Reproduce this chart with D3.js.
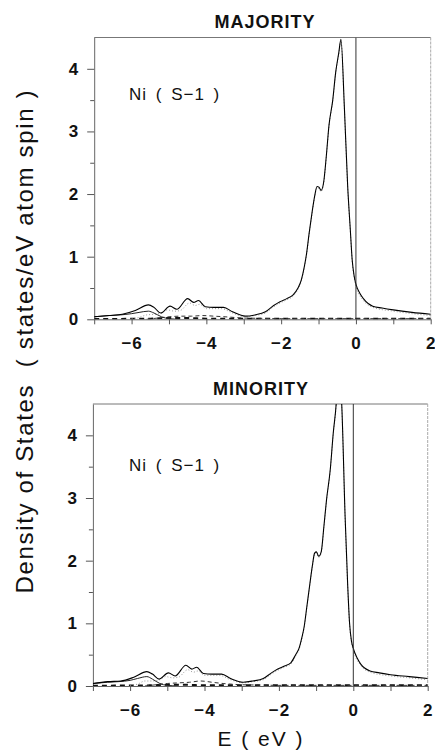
<!DOCTYPE html>
<html>
<head>
<meta charset="utf-8">
<script src="https://cdn.jsdelivr.net/npm/d3@7"></script>
<style>
body { margin: 0; background: #fff; }
text { font-family: "Liberation Sans", Arial, sans-serif; fill: #111; }
</style>
</head>
<body>
<svg id="chart" width="435" height="750"></svg>
<script>
// energy grid (eV) of the total DOS curves
const totE = [-7.0, -6.6, -6.25, -5.9, -5.55, -5.4, -5.22, -4.97, -4.79, -4.5, -4.34, -4.21, -4.03, -3.8, -3.54, -3.3,
  -2.96, -2.7, -2.42, -2.2, -2.03, -1.85, -1.68, -1.55, -1.46, -1.38, -1.32, -1.25, -1.17, -1.1, -1.04, -0.99, -0.93,
  -0.86, -0.79, -0.72, -0.62, -0.54, -0.46, -0.4, -0.31, -0.22, -0.15, -0.1, -0.05, 0.0, 0.1, 0.2, 0.45, 0.7, 1.0, 1.5, 2.0];
const majTotal = [0.04, 0.06, 0.08, 0.14, 0.23, 0.19, 0.10, 0.21, 0.16, 0.33, 0.27, 0.30, 0.20, 0.19, 0.19, 0.12,
  0.05, 0.07, 0.12, 0.22, 0.28, 0.33, 0.39, 0.50, 0.63, 0.84, 1.05, 1.38, 1.72, 1.98, 2.12, 2.11, 2.06,
  2.20, 2.62, 3.10, 3.50, 3.95, 4.25, 4.47, 3.40, 2.12, 1.43, 0.95, 0.70, 0.56, 0.42, 0.33, 0.21, 0.18, 0.15, 0.11, 0.08];
const minTotal = [0.04, 0.07, 0.08, 0.14, 0.23, 0.19, 0.11, 0.21, 0.16, 0.33, 0.27, 0.30, 0.20, 0.19, 0.19, 0.12,
  0.06, 0.08, 0.12, 0.21, 0.27, 0.32, 0.37, 0.50, 0.60, 0.78, 0.95, 1.26, 1.62, 1.92, 2.12, 2.14, 2.07,
  2.15, 2.55, 2.97, 3.45, 4.03, 4.50, 5.10, 4.48, 2.70, 1.60, 1.00, 0.72, 0.60, 0.45, 0.35, 0.24, 0.21, 0.18, 0.15, 0.12];

// dotted (grey) partial curve
const dotE = [-6.0, -5.8, -5.6, -5.4, -5.2, -5.05, -4.85, -4.7, -4.45, -4.3, -4.18, -4.0, -3.6, -3.3, -2.96, -2.7,
  -2.42, -2.2, -2.03, -1.85, -1.68, -1.55, -1.46, -1.38, -1.32, -1.25, -1.17, -1.1, -1.04, -0.99, -0.93, -0.86,
  -0.79, -0.72, -0.62, -0.54, -0.46, -0.4, -0.31, -0.22, -0.15, -0.1, -0.05, 0.0, 0.2, 0.45, 1.0, 1.5, 2.0];
const majDot = [0.01, 0.03, 0.07, 0.08, 0.10, 0.15, 0.13, 0.14, 0.26, 0.22, 0.24, 0.17, 0.17, 0.10, 0.04, 0.06,
  0.10, 0.20, 0.26, 0.31, 0.37, 0.48, 0.61, 0.82, 1.03, 1.36, 1.70, 1.96, 2.10, 2.09, 2.04, 2.18,
  2.60, 3.08, 3.48, 3.93, 4.23, 4.45, 3.38, 2.10, 1.41, 0.93, 0.68, 0.53, 0.30, 0.19, 0.13, 0.09, 0.06];
const minDot = [0.01, 0.03, 0.08, 0.08, 0.10, 0.15, 0.13, 0.14, 0.26, 0.22, 0.24, 0.17, 0.17, 0.10, 0.05, 0.07,
  0.10, 0.19, 0.25, 0.30, 0.35, 0.48, 0.58, 0.76, 0.93, 1.24, 1.60, 1.90, 2.10, 2.12, 2.05, 2.13,
  2.53, 2.95, 3.43, 4.01, 4.48, 5.08, 4.46, 2.68, 1.58, 0.98, 0.70, 0.57, 0.33, 0.22, 0.16, 0.13, 0.10];

// lower solid partial curve (bottom of the band)
const lowE = [-7.0, -6.6, -6.3, -6.0, -5.8, -5.55, -5.4, -5.2, -5.0, -4.7];
const majLow = [0.04, 0.06, 0.07, 0.09, 0.11, 0.13, 0.10, 0.04, 0.01, 0.0];
const minLow = [0.04, 0.06, 0.07, 0.09, 0.12, 0.15, 0.11, 0.04, 0.01, 0.0];

// dashed partial curve
const dashE = [-5.6, -5.3, -5.0, -4.7, -4.4, -4.1, -3.8, -3.5, -3.0, -2.5, -2.0, 2.0];
const majDash = [0.0, 0.02, 0.04, 0.05, 0.05, 0.06, 0.05, 0.04, 0.02, 0.015, 0.01, 0.01];
const minDash = [0.0, 0.02, 0.04, 0.05, 0.06, 0.08, 0.06, 0.04, 0.02, 0.015, 0.01, 0.01];

// heavy dashed curve lying on the baseline
const baseE = [-7.0, -5.5, -5.0, -4.5, -4.0, -3.0, 2.0];
const baseVal = [0.005, 0.01, 0.02, 0.02, 0.01, 0.01, 0.01];

const xTicks = [-7, -6, -5, -4, -3, -2, -1, 0, 1, 2];
const xLabels = [-6, -4, -2, 0, 2];
const yTicks = [0, 0.5, 1, 1.5, 2, 2.5, 3, 3.5, 4];
const yLabels = [0, 1, 2, 3, 4];

const svg = d3.select('#chart');

function drawPanel(id, title, titleX, titleY, xr, yr, total, dot, low, dash, labelY) {
  var x = d3.scaleLinear().domain([-7, 2]).range(xr);
  var y = d3.scaleLinear().domain([0, 4.5]).range(yr);
  var g = svg.append('g');

  g.append('clipPath').attr('id', 'clip' + id)
    .append('rect')
    .attr('x', x(-7)).attr('y', y(4.5))
    .attr('width', x(2) - x(-7)).attr('height', y(0) - y(4.5));

  // frame top and right
  g.append('line').attr('x1', x(-7)).attr('x2', x(2)).attr('y1', y(4.5)).attr('y2', y(4.5))
    .attr('stroke', '#777').attr('stroke-width', 1);
  g.append('line').attr('x1', x(2)).attr('x2', x(2)).attr('y1', y(4.5)).attr('y2', y(0))
    .attr('stroke', '#aaa').attr('stroke-width', 1).attr('stroke-dasharray', '3,1');

  // x axis
  var xa = g.append('g').attr('transform', 'translate(0,' + y(0) + ')')
    .call(d3.axisBottom(x).tickValues(xTicks).tickSize(5).tickSizeOuter(0).tickPadding(13)
      .tickFormat(function(d) { return xLabels.indexOf(d) >= 0 ? d3.format('d')(d) : ''; }));
  xa.select('.domain').attr('stroke', '#666');
  xa.selectAll('.tick line').attr('stroke', '#555');
  xa.selectAll('text').style('font-size', '17px').style('font-weight', 'bold').attr('fill', '#000')
    .style('letter-spacing', '1px');

  // y axis
  var ya = g.append('g').attr('transform', 'translate(' + x(-7) + ',0)')
    .call(d3.axisLeft(y).tickValues(yTicks).tickSize(7).tickSizeOuter(0).tickPadding(9)
      .tickFormat(function(d) { return yLabels.indexOf(d) >= 0 ? d : ''; }));
  ya.select('.domain').attr('stroke', '#666');
  ya.selectAll('.tick line').attr('stroke', '#555')
    .attr('x2', function(d) { return yLabels.indexOf(d) >= 0 ? -7 : -4; });
  ya.selectAll('text').style('font-size', '17px').style('font-weight', 'bold').attr('fill', '#000');

  var plot = g.append('g').attr('clip-path', 'url(#clip' + id + ')');

  function path(es, vs, stroke, width, dasharray) {
    var line = d3.line()
      .x(function(d, i) { return x(es[i]); })
      .y(function(d) { return y(d); })
      .curve(d3.curveMonotoneX);
    var p = plot.append('path').datum(vs)
      .attr('d', line)
      .attr('fill', 'none')
      .attr('stroke', stroke)
      .attr('stroke-width', width);
    if (dasharray) p.attr('stroke-dasharray', dasharray);
  }

  path(baseE, baseVal, '#111', 2, '5,4');
  path(dashE, dash, '#333', 1, '4,3');
  path(dotE, dot, '#999', 1, '1,2');
  path(lowE, low, '#222', 1);
  path(totE, total, '#000', 1.1);

  // Fermi level
  plot.append('line').attr('x1', x(0)).attr('x2', x(0)).attr('y1', y(0)).attr('y2', y(4.5))
    .attr('stroke', '#333').attr('stroke-width', 1);

  g.append('text').attr('x', titleX).attr('y', titleY)
    .attr('text-anchor', 'middle')
    .attr('fill', '#000')
    .style('font-size', '18px').style('font-weight', 'bold').style('letter-spacing', '1px')
    .text(title);

  g.append('text').attr('x', 129).attr('y', labelY)
    .attr('xml:space', 'preserve')
    .attr('fill', '#000')
    .style('font-size', '17px').style('letter-spacing', '1px').style('word-spacing', '3px')
    .text('Ni ( S\u22121 )');
}

drawPanel('a', 'MAJORITY', 265, 28, [94.2, 430.7], [319.3, 37.5], majTotal, majDot, majLow, majDash, 100);
drawPanel('b', 'MINORITY', 261, 395, [92.9, 427.7], [686, 404], minTotal, minDot, minLow, minDash, 471);

svg.append('text')
  .attr('transform', 'translate(33,342) rotate(-90)')
  .attr('text-anchor', 'middle')
  .attr('xml:space', 'preserve')
  .attr('textLength', 503).attr('lengthAdjust', 'spacing')
  .attr('fill', '#000')
  .style('font-size', '24px')
  .text('Density of States  ( states/eV atom spin )');

svg.append('text')
  .attr('x', 261).attr('y', 746)
  .attr('text-anchor', 'middle')
  .attr('xml:space', 'preserve')
  .attr('fill', '#000')
  .style('font-size', '21px').style('letter-spacing', '2px')
  .text('E ( eV )');
</script>
</body>
</html>
